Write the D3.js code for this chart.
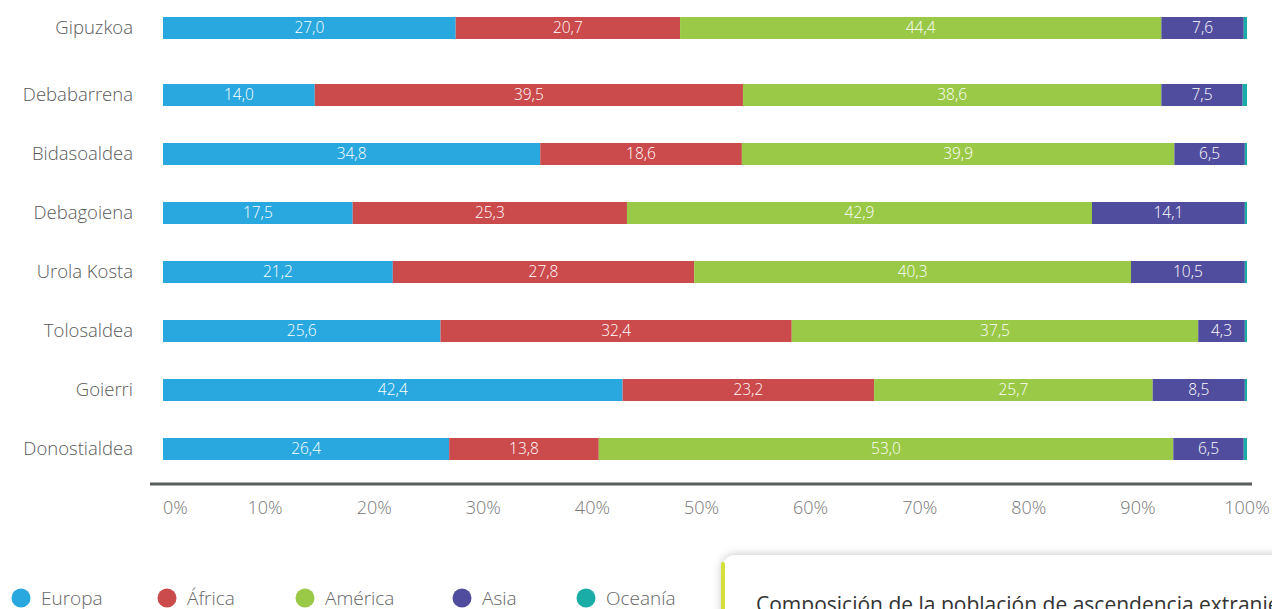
<!DOCTYPE html>
<html>
<head>
<meta charset="utf-8">
<script src="https://cdn.jsdelivr.net/npm/d3@7"></script>
<style>
  body { margin: 0; background: #fff; overflow: hidden; }
  svg { display: block; font-family: 'Open Sans', sans-serif; font-weight: 300; }
</style>
</head>
<body>
<svg id="chart" width="1272" height="609"></svg>
<script>
// data
const regions = ['Gipuzkoa', 'Debabarrena', 'Bidasoaldea', 'Debagoiena', 'Urola Kosta', 'Tolosaldea', 'Goierri', 'Donostialdea']
const continents = ['Europa', 'África', 'América', 'Asia', 'Oceanía']
const europa = [27.0, 14.0, 34.8, 17.5, 21.2, 25.6, 42.4, 26.4]
const africa = [20.7, 39.5, 18.6, 25.3, 27.8, 32.4, 23.2, 13.8]
const america = [44.4, 38.6, 39.9, 42.9, 40.3, 37.5, 25.7, 53.0]
const asia = [7.6, 7.5, 6.5, 14.1, 10.5, 4.3, 8.5, 6.5]
const oceania = [0.3, 0.4, 0.2, 0.2, 0.2, 0.2, 0.2, 0.3]
const tickLabels = ['0%', '10%', '20%', '30%', '40%', '50%', '60%', '70%', '80%', '90%', '100%']
const colors = ['#29a8e0', '#cb4a4b', '#99c946', '#514d9e', '#1aaca6']
const title = 'Composición de la población de ascendencia extranjera'

const series = [europa, africa, america, asia, oceania]
const rows = regions.map((name, i) => {
  const r = { name }
  continents.forEach((c, j) => { r[c] = series[j][i] })
  return r
})

const svg = d3.select('#chart')

const x = d3.scaleLinear().domain([0, 100]).range([163, 1247])

// comarcas spaced evenly, the total row a bit apart on top
const y = d3.scalePoint().domain(regions.slice(1)).range([95, 449])
const gap = 8
const yc = (name) => (name === regions[0] ? y(regions[1]) - y.step() - gap : y(name))
const barH = 22

const stack = d3.stack().keys(continents)(rows)

const layer = svg.selectAll('g.layer')
  .data(stack)
  .enter()
  .append('g')
  .attr('class', 'layer')
  .attr('fill', (d, i) => colors[i])

layer.selectAll('rect')
  .data((d) => d)
  .enter()
  .append('rect')
  .attr('x', (d) => x(d[0]))
  .attr('y', (d) => yc(d.data.name) - barH / 2)
  .attr('width', (d) => x(d[1]) - x(d[0]))
  .attr('height', barH)

// value labels inside the bars (not for the tiny Oceanía slice)
const fmt = (v) => v.toFixed(1).replace('.', ',')
layer.filter((d, i) => i < 4)
  .selectAll('text')
  .data((d) => d)
  .enter()
  .append('text')
  .attr('x', (d) => (x(d[0]) + x(d[1])) / 2)
  .attr('y', (d) => yc(d.data.name))
  .attr('dy', '.35em')
  .attr('text-anchor', 'middle')
  .attr('fill', '#fff')
  .attr('font-size', 15.5)
  .text((d) => fmt(d[1] - d[0]))

// region labels
svg.append('g')
  .selectAll('text')
  .data(regions)
  .enter()
  .append('text')
  .attr('x', 133)
  .attr('y', (d) => yc(d))
  .attr('dy', '.35em')
  .attr('text-anchor', 'end')
  .attr('fill', '#5a5a5a')
  .attr('font-size', 18.5)
  .text((d) => d)

// axis line + tick labels
const axisY = 484
svg.append('line')
  .attr('x1', 150).attr('x2', 1252)
  .attr('y1', axisY).attr('y2', axisY)
  .attr('stroke', '#585c5c')
  .attr('stroke-width', 3)

const xt = d3.scalePoint().domain(tickLabels).range([156, 1247])
svg.append('g')
  .selectAll('text')
  .data(tickLabels)
  .enter()
  .append('text')
  .attr('x', (d, i) => (i === 0 ? x(0) : xt(d)))
  .attr('y', 514)
  .attr('text-anchor', (d, i) => (i === 0 ? 'start' : 'middle'))
  .attr('fill', '#777')
  .attr('font-size', 18)
  .text((d) => d)

// legend
const legendX = d3.scaleOrdinal().domain(continents).range([21, 167, 305, 462, 586])
const legend = svg.append('g')
  .selectAll('g')
  .data(continents)
  .enter()
  .append('g')
  .attr('transform', (d) => `translate(${legendX(d)},598)`)

legend.append('circle')
  .attr('r', 9.5)
  .attr('fill', (d, i) => colors[i])

legend.append('text')
  .attr('x', 20)
  .attr('dy', '.38em')
  .attr('fill', '#666')
  .attr('font-size', 19)
  .text((d) => d)

// caption card at bottom right
const defs = svg.append('defs')
const shadow = defs.append('filter').attr('id', 'shadow')
  .attr('x', '-10%').attr('y', '-50%').attr('width', '120%').attr('height', '200%')
shadow.append('feDropShadow')
  .attr('dx', 0).attr('dy', 0)
  .attr('stdDeviation', 5)
  .attr('flood-color', '#000')
  .attr('flood-opacity', 0.25)

svg.append('rect')
  .attr('x', 722).attr('y', 555)
  .attr('width', 600).attr('height', 100)
  .attr('rx', 14)
  .attr('fill', '#fff')
  .attr('filter', 'url(#shadow)')

svg.append('rect')
  .attr('x', 721).attr('y', 562)
  .attr('width', 4).attr('height', 60)
  .attr('rx', 2)
  .attr('fill', '#d5e03a')

svg.append('text')
  .attr('x', 756).attr('y', 612)
  .attr('fill', '#333')
  .attr('font-size', 21)
  .attr('font-weight', 400)
  .text(title)
</script>
</body>
</html>
